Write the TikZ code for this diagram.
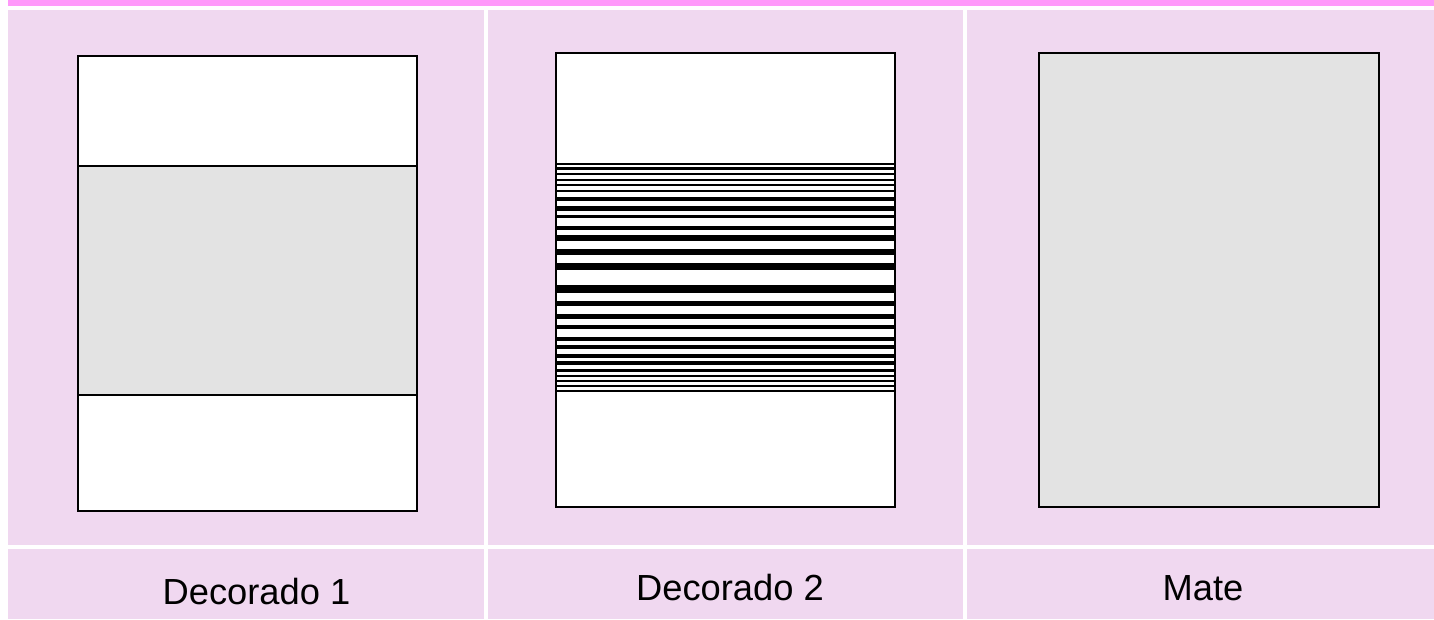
\documentclass[tikz,border=0pt]{standalone}
\usepackage{fontspec}
\setmainfont{Liberation Sans}
\definecolor{barmag}{RGB}{255,153,250}
\definecolor{cellpink}{RGB}{240,216,240}
\definecolor{panelgrey}{RGB}{227,227,227}
\tikzset{
  cell/.style={fill=cellpink, draw=none},
  panel/.style={draw=black, line width=1.5pt, fill=white},
  label/.style={anchor=base, font=\fontsize{36.3}{43}\selectfont, text=black, inner sep=0pt},
  stripe/.style={fill=black, draw=none}
}
\begin{document}
\begin{tikzpicture}[x=1pt,y=-1pt]
\useasboundingbox (0,0) rectangle (1434,619);
\fill[white] (0,0) rectangle (1434,619);
% top bar
\fill[barmag] (8,0) rectangle (1434,6);
% cells
\fill[cell] (8,10) rectangle (484,545);
\fill[cell] (488,10) rectangle (963,545);
\fill[cell] (967,10) rectangle (1434,545);
\fill[cell] (8,549) rectangle (484,619);
\fill[cell] (488,549) rectangle (963,619);
\fill[cell] (967,549) rectangle (1434,619);
% panel 1
\fill[white] (77,55) rectangle (416,510);
\fill[panelgrey] (77,166) rectangle (416,395);
\draw[black, line width=1.5pt] (77,166) -- (416,166) (77,395) -- (416,395);
\node[panel, fill=none, minimum width=339pt, minimum height=455pt, inner sep=0pt, anchor=north west] (p1) at (77,55) {};
% panel 2
\fill[white] (555,52) rectangle (894,506);
\foreach \a/\b in {162.5/165,167/169.5,172.5/175,178.5/181,183.8/186,189.8/192.3,197.3/201.3,206/210.7,214.7/218.3,226/230,235.3/240.7,248.7/254.7,262.7/270,285/292.7,300.7/306,314/319.3,325/329.3,336.7/340.7,345/349,354/358.3,360.7/365,369/372,374.8/377.3,379.8/382.3,384.8/387.3,389.8/392.3}
  \fill[stripe] (555,\a) rectangle (894,\b);
\node[panel, fill=none, minimum width=339pt, minimum height=454pt, inner sep=0pt, anchor=north west] (p2) at (555,52) {};
% panel 3
\node[panel, fill=panelgrey, minimum width=340pt, minimum height=454pt, inner sep=0pt, anchor=north west] (p3) at (1038,52) {};
% labels
\node[label] (l1) at (256.5,604) {Decorado 1};
\node[label] (l2) at (730,600) {Decorado 2};
\node[label] (l3) at (1203,600) {Mate};
\end{tikzpicture}
\end{document}
